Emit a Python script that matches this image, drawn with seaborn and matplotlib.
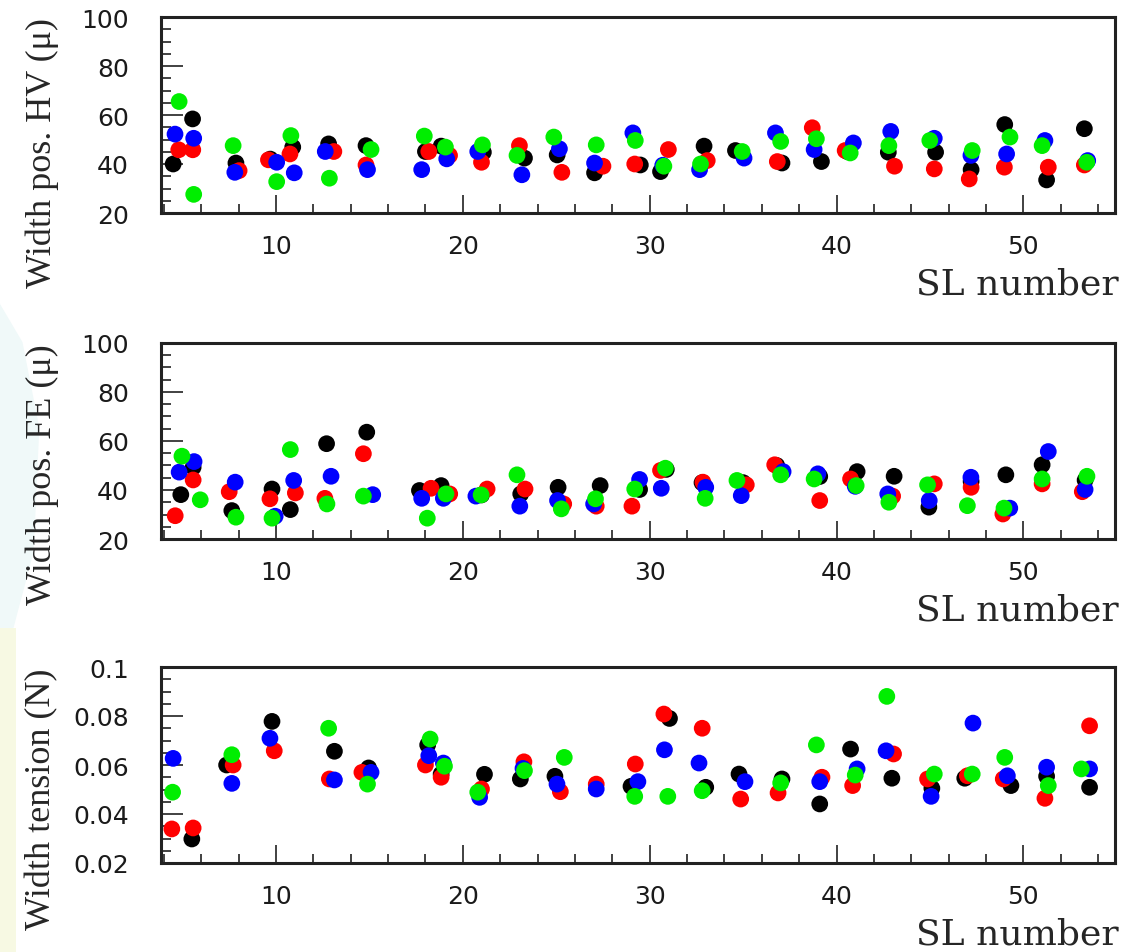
import numpy as np
import pandas as pd
import matplotlib
matplotlib.use('Agg')
import matplotlib.pyplot as plt
import seaborn as sns
from matplotlib.ticker import MultipleLocator
from matplotlib.patches import Polygon, Rectangle

nan = np.nan

# ## Data (one x / y list per wire colour and panel)

wires = ['black', 'red', 'blue', 'green']
wire_colors = {'black': '#000000', 'red': '#ff0000', 'blue': '#0000ff', 'green': '#00ee00'}

# width of position, HV side (microns)
hv_sl_black = [4.5, 5.54, 7.86, 9.7, 10.9, 12.82, 14.82, 18.0, 18.84, 21.1, 23.3, 25.05, 27.05,
               29.5, 30.58, 32.91, 34.59, 37.08, 39.19, 40.6, 42.77, 45.3, 47.2, 49.0, 51.24, 53.26]
hv_w_black = [40.0, 58.4, 40.4, 42.0, 46.9, 48.2, 47.5, 45.1, 47.3, 44.8, 42.4, 43.7, 36.4,
              39.6, 36.9, 47.3, 45.5, 40.4, 41.0, 45.0, 44.8, 44.8, 37.7, 56.1, 33.5, 54.4]
hv_sl_red = [4.8, 5.55, 8.03, 9.6, 10.75, 13.1, 14.82, 18.18, 19.29, 21.0, 23.03, 25.3, 27.5,
             29.2, 31.0, 33.08, 34.7, 36.83, 38.7, 40.46, 43.1, 45.23, 47.1, 48.98, 51.33, 53.26]
hv_w_red = [45.8, 45.8, 37.3, 41.7, 44.1, 45.1, 39.6, 45.1, 43.5, 40.7, 47.5, 36.6, 39.1,
            40.0, 45.9, 41.4, nan, 41.0, 54.8, 45.5, 39.1, 38.0, 33.9, 38.7, 38.7, 39.6]
hv_sl_blue = [4.6, 5.6, 7.8, 10.04, 10.98, 12.64, 14.9, 17.8, 19.14, 20.8, 23.16, 25.17, 27.05,
              29.1, 30.7, 32.67, 35.05, 36.73, 38.8, 40.9, 42.9, 45.23, 47.19, 49.1, 51.15, 53.44]
hv_w_blue = [52.2, 50.5, 36.6, 40.7, 36.4, 45.1, 37.7, 37.7, 42.1, 45.1, 35.6, 46.2, 40.4,
             52.7, 39.5, 37.7, 42.4, 52.7, 45.9, 48.6, 53.3, 50.5, 43.5, 44.1, 49.6, 41.4]
hv_sl_green = [4.82, 5.6, 7.71, 10.04, 10.8, 12.86, 15.09, 17.94, 19.07, 21.05, 22.9, 24.87, 27.14,
               29.23, 30.76, 32.72, 34.95, 37.01, 38.92, 40.73, 42.8, 44.99, 47.26, 49.28, 51.0, 53.39]
hv_w_green = [65.5, 27.6, 47.5, 32.8, 51.6, 34.2, 45.9, 51.4, 46.9, 47.8, 43.5, 51.0, 47.8,
              49.6, 39.1, 40.0, 45.1, 49.2, 50.3, 44.5, 47.5, 49.6, 45.5, 51.0, 47.5, 40.7]

# width of position, FE side (microns)
fe_sl_black = [4.91, 5.57, 7.64, 9.79, 10.77, 12.71, 14.86, 17.68, 18.84, 21.0, 23.1, 25.1, 27.35,
               29.46, 30.89, 32.8, 35.0, 36.8, 39.1, 41.1, 43.08, 44.94, 47.2, 49.06, 51.0, 53.3]
fe_w_black = [38.1, 49.3, 31.6, 40.4, 32.0, 58.9, 63.6, 39.8, 41.8, 38.0, 38.4, 41.1, 41.8,
              40.2, 48.4, 43.0, 43.0, 50.0, 45.5, 47.5, 45.6, 33.0, 43.5, 46.2, 50.3, 44.0]
fe_sl_red = [4.61, 5.57, 7.5, 9.68, 11.04, 12.62, 14.68, 18.3, 19.3, 21.3, 23.33, 25.4, 27.14,
             29.05, 30.58, 32.85, 35.17, 36.69, 39.1, 40.75, 43.0, 45.23, 47.2, 48.9, 51.0, 53.15]
fe_w_red = [29.5, 44.1, 39.3, 36.4, 38.8, 36.6, 54.8, 40.7, 38.4, 40.4, 40.4, 34.3, 33.4,
            33.4, 48.0, 43.2, 42.1, 50.3, 35.7, 44.5, 37.5, 42.5, 41.1, 30.2, 42.5, 39.3]
fe_sl_blue = [4.82, 5.62, 7.82, 9.96, 10.95, 12.95, 15.18, 17.8, 18.96, 20.7, 23.05, 25.07, 27.0,
              29.46, 30.62, 33.0, 34.9, 37.14, 39.0, 41.0, 42.74, 44.96, 47.19, 49.27, 51.33, 53.3]
fe_w_blue = [47.3, 51.6, 43.2, 29.3, 43.9, 45.6, 38.1, 36.6, 36.6, 37.5, 33.4, 35.7, 34.3,
             44.3, 40.7, 41.1, 37.7, 47.5, 46.6, 41.5, 38.4, 35.7, 45.2, 32.6, 55.7, 40.2]
fe_sl_green = [4.97, 5.95, 7.86, 9.79, 10.77, 12.73, 14.68, 18.1, 19.1, 20.98, 22.9, 25.27, 27.1,
               29.2, 30.84, 32.97, 34.67, 37.01, 38.8, 41.05, 42.8, 44.87, 47.0, 48.96, 51.0, 53.4]
fe_w_green = [53.8, 36.0, 28.9, 28.5, 56.5, 34.3, 37.5, 28.5, 38.4, 38.0, 46.2, 32.3, 36.4,
              40.4, 48.9, 36.6, 43.9, 46.2, 44.5, 41.8, 35.0, 42.1, 33.6, 32.6, 44.5, 45.6]

# width of tension (N)
tn_sl_black = [4.5, 5.5, 7.36, 9.79, 13.13, 14.96, 18.12, 18.84, 21.16, 23.08, 24.93, 27.0,
               29.0, 31.06, 33.0, 34.78, 37.08, 39.1, 40.75, 42.96, 45.1, 46.86, 49.33, 51.24, 53.54]
tn_w_black = [nan, 0.0298, 0.0600, 0.0778, 0.0656, 0.0588, 0.0682, 0.0563, 0.0562, 0.0543, 0.0554, nan,
              0.0513, 0.0790, 0.0509, 0.0563, 0.0543, 0.0441, 0.0665, 0.0546, 0.0505, 0.0546, 0.0516, 0.0554, 0.0509]
tn_sl_red = [4.43, 5.57, 7.71, 9.91, 12.86, 14.6, 18.0, 18.84, 21.0, 23.27, 25.22, 27.14,
             29.23, 30.76, 32.81, 34.87, 36.87, 39.22, 40.86, 43.05, 44.87, 47.0, 48.92, 51.15, 53.54]
tn_w_red = [0.0339, 0.0343, 0.0600, 0.0658, 0.0543, 0.0570, 0.0600, 0.0550, 0.0502, 0.0613, 0.0491, 0.0522,
            0.0604, 0.0808, 0.0750, 0.0461, 0.0486, 0.0550, 0.0516, 0.0645, 0.0543, 0.0556, 0.0543, 0.0464, 0.0760]
tn_sl_blue = [4.5, 5.5, 7.64, 9.68, 13.13, 15.09, 18.18, 18.96, 20.9, 23.22, 25.04, 27.14,
              29.37, 30.79, 32.64, 35.1, 37.0, 39.1, 41.1, 42.65, 45.06, 47.3, 49.14, 51.24, 53.54]
tn_w_blue = [0.0627, nan, 0.0525, 0.0709, 0.0539, 0.0570, 0.0638, 0.0608, 0.0468, 0.0586, 0.0522, 0.0502,
             0.0532, 0.0662, 0.0608, 0.0532, nan, 0.0532, 0.0584, 0.0658, 0.0472, 0.0771, 0.0556, 0.0591, 0.0584]
tn_sl_green = [4.47, 5.5, 7.64, 9.8, 12.82, 14.9, 18.25, 19.02, 20.8, 23.3, 25.43, 27.1,
               29.2, 30.97, 32.81, 35.0, 37.01, 38.92, 41.0, 42.69, 45.23, 47.26, 49.0, 51.33, 53.1]
tn_w_green = [0.0489, nan, 0.0642, nan, 0.0750, 0.0522, 0.0706, 0.0595, 0.0489, 0.0577, 0.0631, nan,
              0.0472, 0.0472, 0.0495, nan, 0.0527, 0.0682, 0.0559, 0.0880, 0.0563, 0.0563, 0.0631, 0.0516, 0.0584]

pos_ticklabels = ['20', '40', '60', '80', '100']
tension_ticklabels = ['0.02', '0.04', '0.06', '0.08', '0.1']


def long_form(sls, widths):
    parts = []
    for wire, sl, w in zip(wires, sls, widths):
        parts.append(pd.DataFrame({'sl': sl, 'width': w, 'wire': wire}))
    return pd.concat(parts, ignore_index=True).dropna()


df_hv = long_form([hv_sl_black, hv_sl_red, hv_sl_blue, hv_sl_green],
                  [hv_w_black, hv_w_red, hv_w_blue, hv_w_green])
df_fe = long_form([fe_sl_black, fe_sl_red, fe_sl_blue, fe_sl_green],
                  [fe_w_black, fe_w_red, fe_w_blue, fe_w_green])
df_tn = long_form([tn_sl_black, tn_sl_red, tn_sl_blue, tn_sl_green],
                  [tn_w_black, tn_w_red, tn_w_blue, tn_w_green])

# ## Style

sns.set_style('ticks')
plt.rcParams['font.family'] = ['DejaVu Sans']
plt.rcParams['axes.linewidth'] = 2.2
plt.rcParams['axes.edgecolor'] = '#222222'

fig = plt.figure(figsize=(11.24, 9.53), dpi=100)

# faint slide background on the left edge
fig.patches.append(Polygon([[0, 0.68], [0.02, 0.64], [0.035, 0.55], [0.03, 0.42],
                            [0.012, 0.34], [0, 0.33]], closed=True,
                           transform=fig.transFigure, facecolor='#f0f9f9', edgecolor='none', zorder=-1))
fig.patches.append(Rectangle((0, 0), 0.014, 0.34, transform=fig.transFigure,
                             facecolor='#f7f9e3', edgecolor='none', zorder=-1))

left, width = 161 / 1124, 954 / 1124
panels = [
    (df_hv, 'Width pos. HV (\u03bc)', (20, 100), 5, pos_ticklabels, 1 - 214 / 953),
    (df_fe, 'Width pos. FE (\u03bc)', (20, 100), 5, pos_ticklabels, 1 - 540 / 953),
    (df_tn, 'Width tension (N)', (0.02, 0.1), 0.005, tension_ticklabels, 1 - 864 / 953),
]

for df, ylabel, ylim, minor, ticklabels, bottom in panels:
    ax = fig.add_axes([left, bottom, width, 196 / 953])
    sns.scatterplot(data=df, x='sl', y='width', hue='wire', hue_order=wires,
                    palette=wire_colors, s=145, linewidth=0, alpha=1, legend=False, ax=ax)
    ax.set_xlim(3.85, 54.9)
    ax.set_ylim(*ylim)
    ax.xaxis.set_major_locator(MultipleLocator(10))
    ax.xaxis.set_minor_locator(MultipleLocator(2))
    ax.set_yticks(np.linspace(ylim[0], ylim[1], len(ticklabels)))
    ax.set_yticklabels(ticklabels)
    ax.yaxis.set_minor_locator(MultipleLocator(minor))
    ax.tick_params(axis='x', which='major', direction='in', length=13, width=1.3,
                   color='#333333', labelsize=18, labelcolor='#1a1a1a', pad=15)
    ax.tick_params(axis='x', which='minor', direction='in', length=6.5, width=1.3, color='#333333')
    ax.tick_params(axis='y', which='major', direction='in', length=16, width=1.3,
                   color='#333333', labelsize=18, labelcolor='#1a1a1a', pad=23)
    ax.tick_params(axis='y', which='minor', direction='in', length=7, width=1.3, color='#333333')
    ax.set_xlabel('')
    ax.set_ylabel('')
    ax.text(-0.1247, 1.0, ylabel, transform=ax.transAxes, rotation=90, ha='center', va='top',
            fontsize=26, family=['Liberation Serif', 'DejaVu Serif'])
    ax.text(1.004, -0.41, 'SL number', transform=ax.transAxes, ha='right', va='baseline',
            fontsize=26, family=['DejaVu Serif'])

fig.savefig('out.png', dpi=100, facecolor='white')
